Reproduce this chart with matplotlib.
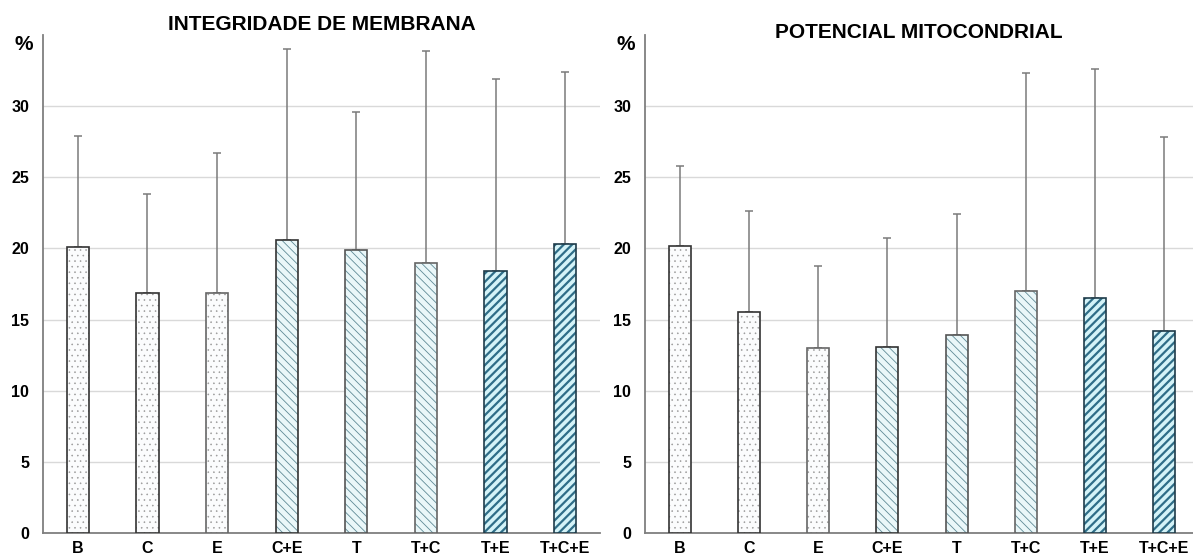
import matplotlib
matplotlib.use("Agg")
import matplotlib.pyplot as plt
import numpy as np

plt.rcParams['font.family'] = ['Liberation Sans', 'DejaVu Sans']

categories = ["B", "C", "E", "C+E", "T", "T+C", "T+E", "T+C+E"]

# INTEGRIDADE DE MEMBRANA
im_mean = [20.1, 16.9, 16.9, 20.6, 19.9, 19.0, 18.4, 20.3]
im_err = [7.8, 6.9, 9.8, 13.4, 9.7, 14.9, 13.5, 12.1]

# POTENCIAL MITOCONDRIAL
pm_mean = [20.2, 15.5, 13.0, 13.1, 13.9, 17.0, 16.5, 14.2]
pm_err = [5.6, 7.1, 5.8, 7.6, 8.5, 15.3, 16.1, 13.6]

titles = ["INTEGRIDADE DE MEMBRANA", "POTENCIAL MITOCONDRIAL"]
yticks = [0, 5, 10, 15, 20, 25, 30]

# bar styles per category: (face, hatch, hatch colour, hatch lw, edge colour)
styles = [
    ("#fbfcfd", "...", "#9a9a9a", 0.4, "#333333"),
    ("#fbfcfd", "...", "#9a9a9a", 0.4, "#333333"),
    ("#fbfcfd", "...", "#9a9a9a", 0.4, "#666666"),
    ("#eaf7f9", "\\\\\\\\", "#5f8a96", 0.6, "#333333"),
    ("#eaf7f9", "\\\\\\\\", "#5f8a96", 0.6, "#555555"),
    ("#eaf7f9", "\\\\\\\\", "#5f8a96", 0.6, "#666666"),
    ("#d4f3f8", "////", "#2f6e88", 1.6, "#1f3c4a"),
    ("#d4f3f8", "////", "#2f6e88", 1.6, "#1f3c4a"),
]

W, H = 1193, 558
fig = plt.figure(figsize=(W / 100, H / 100), dpi=100)
ax1 = fig.add_axes([43 / W, 25 / H, 557 / W, 498 / H])
ax2 = fig.add_axes([645 / W, 25 / H, 554 / W, 498 / H])
title_y = [25, 33]

x = np.arange(len(categories))
for k, (ax, mean, err, title) in enumerate([(ax1, im_mean, im_err, titles[0]), (ax2, pm_mean, pm_err, titles[1])]):
    ax.set_xlim(-0.5, 7.5)
    ax.set_ylim(0, 35)
    ax.set_yticks(yticks)
    ax.grid(axis='y', color='#d9d9d9', linewidth=1)
    ax.set_axisbelow(True)
    for s in ['top', 'right']:
        ax.spines[s].set_visible(False)
    ax.spines['left'].set_color('#7f7f7f')
    ax.spines['bottom'].set_color('#7f7f7f')
    ax.spines['left'].set_linewidth(1.3)
    ax.spines['bottom'].set_linewidth(1.3)
    ax.errorbar(x, mean, yerr=[np.zeros(len(err)), err], fmt='none',
                ecolor='#7a7a7a', elinewidth=1.1, capsize=3, capthick=1.1, zorder=2)
    for i in range(len(categories)):
        face, hatch, hcol, hlw, ecol = styles[i]
        with plt.rc_context({'hatch.linewidth': hlw, 'hatch.color': hcol}):
            b = ax.bar(x[i], mean[i], width=0.32, color=face, hatch=hatch,
                       edgecolor=hcol, linewidth=0, zorder=3)
            for p in b:
                if hasattr(p, 'set_hatch_linewidth'):
                    p.set_hatch_linewidth(hlw)
        ax.bar(x[i], mean[i], width=0.32, fill=False, edgecolor=ecol,
               linewidth=1.2, zorder=4)
    ax.set_xticks(x)
    ax.set_xticklabels(categories, fontsize=11.5, fontweight='bold')
    ax.tick_params(axis='both', length=0, labelsize=11.5)
    ax.tick_params(axis='y', pad=10)
    ax.tick_params(axis='x', pad=6)
    for lab in ax.get_yticklabels():
        lab.set_fontweight('bold')
    bb = ax.get_position()
    fig.text((bb.x0 + bb.x1) / 2 if k == 0 else (645 + 1193) / 2 / W,
             1 - title_y[k] / H, title, ha='center', va='center',
             fontsize=15, fontweight='bold')
    ax.text(-0.034, 0.98, "%", transform=ax.transAxes, ha='center', va='center',
            fontsize=15, fontweight='bold')

fig.savefig("out.png", dpi=100)
